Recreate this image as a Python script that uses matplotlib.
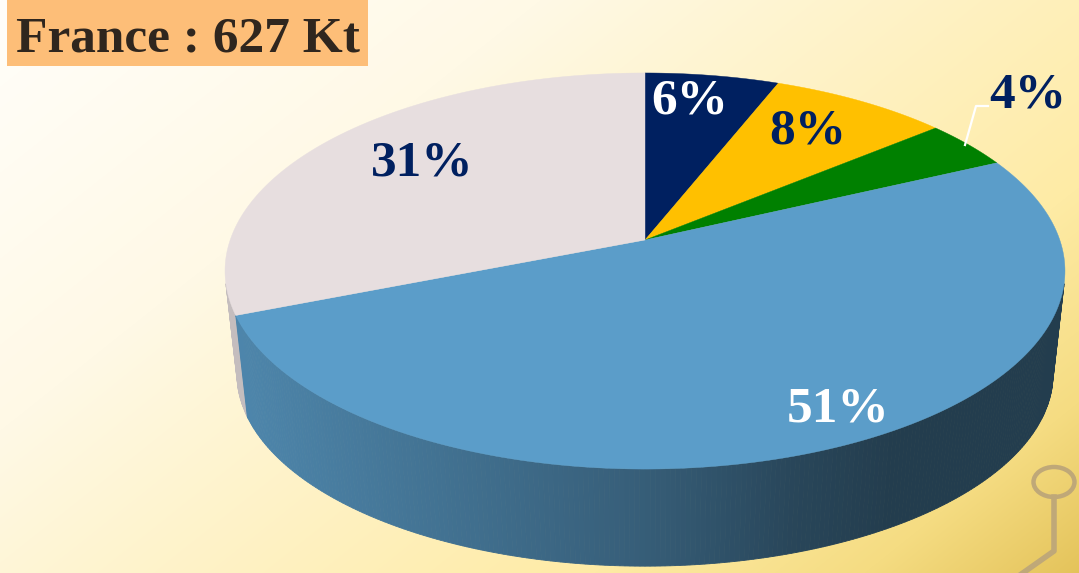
import numpy as np
import matplotlib
matplotlib.use("Agg")
import matplotlib.pyplot as plt
from matplotlib.colors import to_rgb
from matplotlib.patches import Ellipse, Rectangle

# Chart data
shares = [6, 8, 4, 51, 31]
colors = ["#002060", "#FFC000", "#008000", "#5B9DC9", "#E7DEDF"]
label_colors = ["white", "#002060", "#002060", "white", "#002060"]
title = "France : 627 Kt"

W, H = 1079, 573
FONT = "Liberation Serif"

# Pie geometry in pixels, perspective tilt fitted on the picture
cx, cy = 645, 240
k = 414.8
a = -155.6
c = 0.1566
vp_y = 3900
depth_scale = 0.9717


def top_rim(ang):
    u, v = np.sin(ang), np.cos(ang)
    d = 1 + c * v
    return cx + k * u / d, (a * v + cy) / d


def bottom_rim(ang):
    x, y = top_rim(ang)
    return cx + depth_scale * (x - cx), vp_y - depth_scale * (vp_y - y)


def wall_shade(x):
    return np.interp(x, [240, 640, 790, 890], [0.85, 0.6, 0.45, 0.39])


fig = plt.figure(figsize=(W / 100, H / 100), dpi=100)
ax = fig.add_axes([0, 0, 1, 1])
ax.set_xlim(0, W)
ax.set_ylim(H, 0)
ax.axis("off")

# Background gradient
yy, xx = np.mgrid[0:H, 0:W]
t = 0.6 * xx / W + 0.4 * yy / H
stops = [0, 0.3, 0.73, 0.88, 1]
stop_colors = np.array([(255, 254, 250), (255, 249, 230), (254, 235, 165), (245, 220, 130), (228, 195, 90)]) / 255
bg = np.dstack([np.interp(t, stops, stop_colors[:, i]) for i in range(3)])
ax.imshow(bg, extent=(0, W, H, 0), aspect="auto", zorder=0)

# Decoration in the bottom right corner
deco = "#BFA878"
ax.add_patch(Ellipse((1054, 482), 41, 30, fill=False, edgecolor=deco, lw=3.2, zorder=1))
ax.plot([1054, 1054, 1020], [497, 551, 575], color=deco, lw=4, zorder=1)

edges = np.cumsum([0] + shares) / sum(shares) * 2 * np.pi

# Side wall, one thin strip per step, only the strips facing the viewer
strips = []
for i in range(len(shares)):
    n = max(int(shares[i] * 6), 4)
    angs = np.linspace(edges[i], edges[i + 1], n + 1)
    for a0, a1 in zip(angs[:-1], angs[1:]):
        if top_rim(a0)[1] > 285 or top_rim(a1)[1] > 285:
            strips.append((a0, a1, colors[i]))
strips.sort(key=lambda s: top_rim(s[0])[1])
for a0, a1, col in strips:
    x0, y0 = top_rim(a0)
    x1, y1 = top_rim(a1)
    x2, y2 = bottom_rim(a1)
    x3, y3 = bottom_rim(a0)
    shade = wall_shade((x0 + x1) / 2)
    rgb = tuple(np.array(to_rgb(col)) * shade)
    ax.fill([x0, x1, x2, x3], [y0, y1, y2, y3], color=rgb, lw=0.6, zorder=2)

# Top face
for i in range(len(shares)):
    angs = np.linspace(edges[i], edges[i + 1], 200)
    rx, ry = top_rim(angs)
    ax.fill(np.r_[cx, rx], np.r_[cy, ry], color=colors[i], lw=0.3, zorder=3)

# Value labels
label_xy = [(690, 102), (808, 132), (1028, 95), (838, 409), (422, 163)]
for v, col, (x, y) in zip(shares, label_colors, label_xy):
    ax.text(x, y, f"{v}%", color=col, fontsize=37, fontweight="bold", family=FONT,
            ha="center", va="center", zorder=5)

# Leader line of the small slice
ax.plot([965, 976, 988], [145, 106, 106], color="white", lw=1.6, zorder=4)

# Title box
ax.add_patch(Rectangle((7, 0), 361, 66, facecolor="#FDBE78", edgecolor="none", zorder=4))
ax.text(16, 52, title, color="#2F261E", fontsize=37, fontweight="bold", family=FONT,
        ha="left", va="baseline", zorder=5)

fig.savefig("out.png", dpi=100)
